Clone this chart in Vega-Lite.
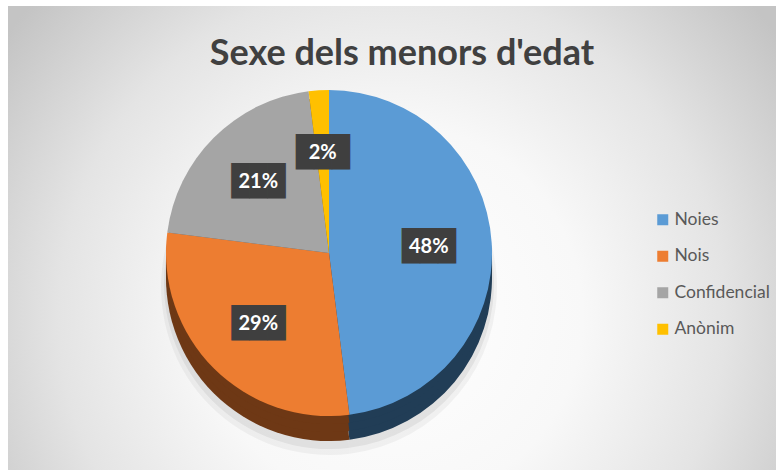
{
  "$schema": "https://vega.github.io/schema/vega-lite/v6.json",
  "width": 768,
  "height": 464,
  "autosize": "none",
  "padding": {"left": 8, "top": 6, "right": 0, "bottom": 0},
  "background": "white",
  "view": {
    "fill": {"expr": "{gradient: 'radial', x1: 0.5, y1: 0.6, r1: 0, x2: 0.5, y2: 0.6, r2: 0.62, stops: [{offset: 0, color: '#ffffff'}, {offset: 0.4, color: '#f8f8f8'}, {offset: 0.7, color: '#e4e4e4'}, {offset: 1, color: '#c4c4c4'}]}"},
    "stroke": null
  },
  "title": {
    "text": "Sexe dels menors d'edat",
    "font": "Lato",
    "fontSize": 36,
    "fontWeight": "bold",
    "color": "#404040",
    "offset": -67,
    "dx": 10
  },
  "data": {
    "values": [
      {"cat": "Noies", "v": 48, "o": 1, "p": "48%"},
      {"cat": "Nois", "v": 29, "o": 2, "p": "29%"},
      {"cat": "Confidencial", "v": 21, "o": 3, "p": "21%"},
      {"cat": "Anònim", "v": 2, "o": 4, "p": "2%"}
    ]
  },
  "layer": [
    {
      "mark": {"type": "arc", "radius": 168, "xOffset": -63, "yOffset": 49, "stroke": null, "fill": "#000000", "opacity": 0.045},
      "encoding": {
        "theta": {"field": "v", "type": "quantitative", "stack": true},
        "order": {"field": "o", "type": "quantitative"}
      }
    },
    {
      "mark": {"type": "arc", "radius": 165, "xOffset": -63, "yOffset": 46, "stroke": null, "fill": "#000000", "opacity": 0.06},
      "encoding": {
        "theta": {"field": "v", "type": "quantitative", "stack": true},
        "order": {"field": "o", "type": "quantitative"}
      }
    },
    {
      "mark": {"type": "arc", "radius": 163, "xOffset": -63, "yOffset": 40, "stroke": null},
      "encoding": {
        "theta": {"field": "v", "type": "quantitative", "stack": true},
        "order": {"field": "o", "type": "quantitative"},
        "color": {"field": "cat", "type": "nominal", "scale": {"domain": ["Noies", "Nois", "Confidencial", "Anònim"], "range": ["#213d56", "#6e3815", "#5a5a5a", "#806000"]}, "legend": null}
      }
    },
    {
      "mark": {"type": "arc", "radius": 163, "xOffset": -63, "yOffset": 31, "stroke": null},
      "encoding": {
        "theta": {"field": "v", "type": "quantitative", "stack": true},
        "order": {"field": "o", "type": "quantitative"},
        "color": {"field": "cat", "type": "nominal", "scale": {"domain": ["Noies", "Nois", "Confidencial", "Anònim"], "range": ["#213d56", "#6e3815", "#5a5a5a", "#806000"]}, "legend": null}
      }
    },
    {
      "mark": {"type": "arc", "radius": 163, "xOffset": -63, "yOffset": 23, "stroke": null},
      "encoding": {
        "theta": {"field": "v", "type": "quantitative", "stack": true},
        "order": {"field": "o", "type": "quantitative"},
        "color": {"field": "cat", "type": "nominal", "scale": {"domain": ["Noies", "Nois", "Confidencial", "Anònim"], "range": ["#213d56", "#6e3815", "#5a5a5a", "#806000"]}, "legend": null}
      }
    },
    {
      "mark": {"type": "arc", "radius": 163, "xOffset": -63, "yOffset": 15, "stroke": null},
      "encoding": {
        "theta": {"field": "v", "type": "quantitative", "stack": true},
        "order": {"field": "o", "type": "quantitative"},
        "color": {
          "field": "cat",
          "type": "nominal",
          "scale": {"domain": ["Noies", "Nois", "Confidencial", "Anònim"], "range": ["#5b9bd5", "#ed7d31", "#a5a5a5", "#ffc000"]},
          "legend": {
            "title": null,
            "orient": "none",
            "legendX": 646,
            "legendY": 205,
            "padding": 0,
            "symbolType": "square",
            "symbolSize": 121,
            "symbolStrokeWidth": 0,
            "labelFont": "Lato",
            "labelFontSize": 17.5,
            "labelColor": "#595959",
            "labelOffset": 3,
            "rowPadding": 17.5
          }
        }
      }
    },
    {
      "mark": {"type": "text", "radius": 100, "dx": -63, "dy": 15, "font": "DejaVu Sans Mono", "fontSize": 30, "fill": "#3f3f3f", "align": "center", "baseline": "middle"},
      "encoding": {
        "theta": {"field": "v", "type": "quantitative", "stack": true},
        "order": {"field": "o", "type": "quantitative"},
        "text": {"value": "███"}
      }
    },
    {
      "mark": {"type": "text", "radius": 100, "dx": -63, "dy": 15, "font": "Lato", "fontSize": 20, "fontWeight": "bold", "fill": "white", "align": "center", "baseline": "middle"},
      "encoding": {
        "theta": {"field": "v", "type": "quantitative", "stack": true},
        "order": {"field": "o", "type": "quantitative"},
        "text": {"field": "p", "type": "nominal"}
      }
    }
  ],
  "resolve": {"scale": {"color": "independent"}, "legend": {"color": "independent"}}
}
